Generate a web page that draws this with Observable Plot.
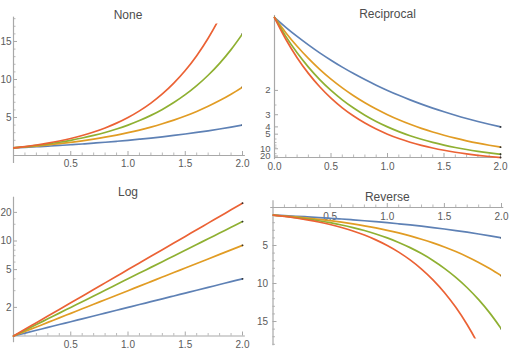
<!DOCTYPE html>
<html><head><meta charset="utf-8">
<script src="https://cdn.jsdelivr.net/npm/d3@7"></script>
<script src="https://cdn.jsdelivr.net/npm/@observablehq/plot@0.6"></script>
<style>
body{margin:0;background:#fff;}
#chart{position:relative;width:509px;height:355px;background:#fff;}
#chart > svg{position:absolute;}
</style></head><body><div id="chart"></div>
<script>
// ---- data ----
const xValues = [0,0.1,0.2,0.3,0.4,0.5,0.6,0.7,0.8,0.9,1.0,1.1,1.2,1.3,1.4,1.5,1.6,1.7,1.8,1.9,2.0];
const seriesNames = ["2^x","3^x","4^x","5^x"];
const seriesA = [1,1.072,1.149,1.231,1.320,1.414,1.516,1.625,1.741,1.866,2,2.144,2.297,2.462,2.639,2.828,3.031,3.249,3.482,3.732,4];
const seriesB = [1,1.116,1.246,1.390,1.552,1.732,1.933,2.158,2.408,2.688,3,3.348,3.737,4.171,4.656,5.196,5.800,6.473,7.225,8.064,9];
const seriesC = [1,1.149,1.320,1.516,1.741,2,2.297,2.639,3.031,3.482,4,4.595,5.278,6.063,6.964,8,9.190,10.556,12.126,13.929,16];
const seriesD = [1,1.175,1.380,1.621,1.904,2.236,2.627,3.085,3.624,4.257,5,5.873,6.899,8.103,9.518,11.180,13.133,15.426,18.119,21.283,25];
const seriesColors = ["#5E81B5","#E19C24","#8FB032","#EB6235"];
const panelTitles = ["None","Reciprocal","Log","Reverse"];

const xMajorTicks = [0.5,1,1.5,2];
const xMinorTicks = [0.1,0.2,0.3,0.4,0.6,0.7,0.8,0.9,1.1,1.2,1.3,1.4,1.6,1.7,1.8,1.9];
const linYMajor = [5,10,15];
const linYMinor = [1,2,3,4,6,7,8,9,11,12,13,14,16,17,18];
const logYMajor = [2,5,10,20];
const logYMinor = [3,4,6,7,8,9,15];
const recYMajor = [2,3,4,5,10,20];
const recYMinor = [2.5,6,7,8,9,15];

const rows = [];
[seriesA,seriesB,seriesC,seriesD].forEach((vals,s)=>vals.forEach((v,i)=>rows.push({x:xValues[i], y:v, s:seriesNames[s]})));

const axisColor = "#a8a8a8", labelColor = "#5b5b5b", titleColor = "#4d4d4d";
const font = "'Liberation Sans', Arial, sans-serif";

const panels = [
  {title:panelTitles[0], left:0, top:0, w:255, h:175, xr:[13,242],
   y:{type:"linear", domain:[0,17.3], range:[155,23.5]}, axisY:0, yLine:[-1.05,18.2], xLine:[0,2.025],
   yMajor:linYMajor, yMinor:linYMinor, xLabels:xMajorTicks, titleY:10, clip:true, xDy:8.3, yDx:-2, yFs:10},
  {title:panelTitles[1], left:255, top:0, w:254, h:175, xr:[19,245],
   y:{type:"pow", exponent:-1, domain:[1,25], range:[17,157]}, axisY:25, yLine:[0.986,40], xLine:[0,2.01],
   yMajor:recYMajor, yMinor:recYMinor, xLabels:[0,...xMajorTicks], titleY:8.5, clip:false, xDy:9.5, yDx:-4, yFs:9.5},
  {title:panelTitles[2], left:0, top:175, w:255, h:180, xr:[13,242],
   y:{type:"log", domain:[1,25], range:[160.5,27.7]}, axisY:1, yLine:[0.85,28.9], xLine:[0,2.025],
   yMajor:logYMajor, yMinor:logYMinor, xLabels:xMajorTicks, titleY:11.5, clip:false, xDy:8.5, yDx:-2, yFs:10},
  {title:panelTitles[3], left:255, top:175, w:254, h:180, xr:[17.5,246],
   y:{type:"linear", domain:[0,17.3], range:[32,163.5]}, axisY:0, yLine:[-0.9,18.2], xLine:[-0.02,2.02],
   yMajor:linYMajor, yMinor:linYMinor, xLabels:xMajorTicks, titleY:16.5, clip:true, xDy:9.5, yDx:-5, yFs:10}
];

function mirror(o){
  const s = o.type==="log" ? d3.scaleLog() : o.type==="pow" ? d3.scalePow().exponent(o.exponent) : d3.scaleLinear();
  return s.domain(o.domain).range(o.range);
}

const chart = document.getElementById("chart");
for (const p of panels) {
  const ys = mirror(p.y);
  const xs = d3.scaleLinear().domain([0,2]).range(p.xr);
  const y0 = p.axisY;
  const yTickEnd = len => ys.invert(ys(y0) - len);
  const xTickEnd = len => xs.invert(xs(0) + len);
  const marginTop = Math.min(...p.y.range), marginBottom = p.h - Math.max(...p.y.range);
  const svg = Plot.plot({
    width: p.w, height: p.h,
    marginLeft: p.xr[0], marginRight: p.w - p.xr[1], marginTop, marginBottom,
    x: {domain:[0,2], range:p.xr, axis:null},
    y: {...p.y, axis:null},
    color: {domain: seriesNames, range: seriesColors},
    style: {background:"transparent", overflow:"visible", fontFamily: font, fontSize:"10px"},
    marks: [
      Plot.ruleY([y0], {y:d=>d, x1:()=>p.xLine[0], x2:()=>p.xLine[1], stroke:axisColor, strokeWidth:1.2}),
      Plot.ruleX([0], {x:d=>d, y1:()=>p.yLine[0], y2:()=>p.yLine[1], stroke:axisColor, strokeWidth:1.2}),
      Plot.ruleX(xMajorTicks, {x:d=>d, y1:()=>y0, y2:()=>yTickEnd(4), stroke:axisColor, strokeWidth:1}),
      Plot.ruleX(xMinorTicks, {x:d=>d, y1:()=>y0, y2:()=>yTickEnd(2.5), stroke:axisColor, strokeWidth:0.8}),
      Plot.ruleY(p.yMajor, {y:d=>d, x1:()=>0, x2:()=>xTickEnd(4), stroke:axisColor, strokeWidth:1}),
      Plot.ruleY(p.yMinor, {y:d=>d, x1:()=>0, x2:()=>xTickEnd(2.5), stroke:axisColor, strokeWidth:0.8}),
      Plot.text(p.yMajor, {x:()=>0, y:d=>d, text:d=>String(d), textAnchor:"end", dx:p.yDx, fill:labelColor, fontSize:p.yFs}),
      Plot.text(p.xLabels, {x:d=>d, y:()=>y0, text:d=>d.toFixed(1), dy:p.xDy, fill:labelColor, fontSize:10}),
      Plot.line(rows, {x:"x", y:"y", z:"s", stroke:"s", strokeWidth:1.7, curve:"monotone-x", clip:p.clip}),
      Plot.dot(rows.filter(d=>d.x===2), {x:"x", y:"y", r:0.9, fill:"#333", clip:p.clip}),
      Plot.text([p.title], {x:()=>1, frameAnchor:"top", dy:p.titleY - marginTop, fill:titleColor, fontSize:12})
    ]
  });
  svg.style.left = p.left + "px";
  svg.style.top = p.top + "px";
  chart.appendChild(svg);
}
</script></body></html>
